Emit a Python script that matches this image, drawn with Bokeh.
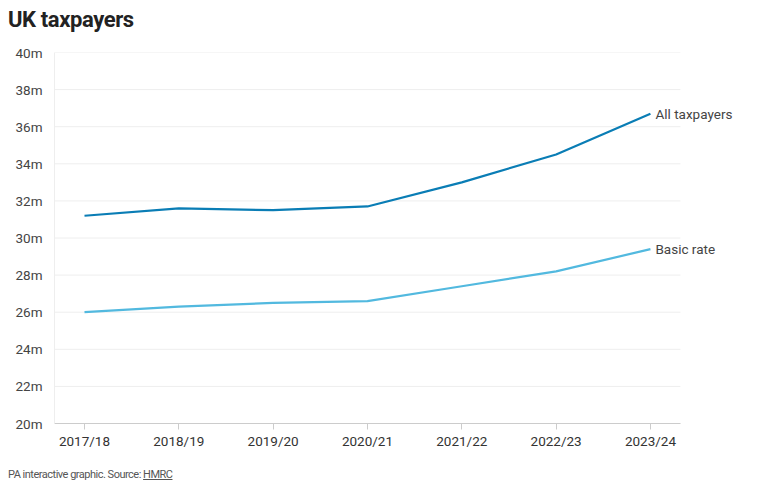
from bokeh.plotting import figure
from bokeh.models import ColumnDataSource, Label, FixedTicker, Range1d, Div
from bokeh.layouts import column
from bokeh.embed import file_html
from bokeh.resources import INLINE

years = ["2017/18", "2018/19", "2019/20", "2020/21", "2021/22", "2022/23", "2023/24"]
all_taxpayers = [31.2, 31.6, 31.5, 31.7, 33.0, 34.5, 36.7]
basic_rate = [26.0, 26.3, 26.5, 26.6, 27.4, 28.2, 29.4]
y_ticks = [20, 22, 24, 26, 28, 30, 32, 34, 36, 38, 40]

FONT = "Roboto"
DARK = "#0a7db5"
LIGHT = "#52b9df"

xs = list(range(len(years)))
x_lo, x_hi = -0.318, 6.318
src = ColumnDataSource(dict(x=xs, a=all_taxpayers, b=basic_rate))
grid_src = ColumnDataSource(dict(y=y_ticks, x0=[x_lo] * len(y_ticks), x1=[x_hi] * len(y_ticks)))

title = Div(text="UK taxpayers", width=752, height=30, margin=(8, 0, 0, 8),
            styles={"font-family": FONT, "font-size": "22px", "font-weight": "bold",
                    "color": "#222222", "line-height": "24px", "letter-spacing": "-0.4px"})

p = figure(width=752, height=420, output_backend="svg", toolbar_location=None,
           x_range=Range1d(x_lo, 7.082), y_range=Range1d(20, 40),
           min_border_left=46, min_border_right=8, min_border_top=14, min_border_bottom=35,
           margin=(0, 0, 0, 8))
p.outline_line_color = None
p.background_fill_color = "white"

p.segment("x0", "y", "x1", "y", source=grid_src, line_color="#eeeeee", line_width=1)
p.line("x", "a", source=src, line_color=DARK, line_width=2.2)
p.line("x", "b", source=src, line_color=LIGHT, line_width=2.2)

p.xaxis.ticker = FixedTicker(ticks=xs)
p.xaxis.bounds = (x_lo, x_hi)
p.xaxis.major_label_overrides = {i: y for i, y in enumerate(years)}
p.xaxis.major_label_text_font = FONT
p.xaxis.major_label_text_font_size = "13.5px"
p.xaxis.major_label_text_color = "#333333"
p.xaxis.axis_line_color = "#cccccc"
p.xaxis.major_tick_line_color = "#cccccc"
p.xaxis.major_tick_out = 6
p.xaxis.major_tick_in = 0
p.xaxis.minor_tick_line_color = None
p.xaxis.major_label_standoff = 3

p.yaxis.ticker = FixedTicker(ticks=y_ticks)
p.yaxis.major_label_overrides = {t: f"{t}m" for t in y_ticks}
p.yaxis.major_label_text_font = FONT
p.yaxis.major_label_text_font_size = "13.5px"
p.yaxis.major_label_text_color = "#444444"
p.yaxis.axis_line_color = "#eeeeee"
p.yaxis.major_tick_line_color = None
p.yaxis.minor_tick_line_color = None
p.yaxis.major_label_standoff = 6

p.xgrid.grid_line_color = None
p.ygrid.grid_line_color = None

p.add_layout(Label(x=xs[-1], y=all_taxpayers[-1], text="All taxpayers", x_offset=5,
                   text_font=FONT, text_font_size="13.5px", text_color="#444444",
                   text_baseline="middle"))
p.add_layout(Label(x=xs[-1], y=basic_rate[-1], text="Basic rate", x_offset=5,
                   text_font=FONT, text_font_size="13.5px", text_color="#444444",
                   text_baseline="middle"))

footer = Div(text='PA interactive graphic. Source: <u>HMRC</u>', width=752, height=20,
             margin=(7, 0, 0, 8),
             styles={"font-family": FONT, "font-size": "11px", "color": "#555555",
                     "line-height": "20px", "letter-spacing": "-0.5px"})

layout = column(title, p, footer, spacing=0)
open("out.html", "w").write(file_html(layout, INLINE))
